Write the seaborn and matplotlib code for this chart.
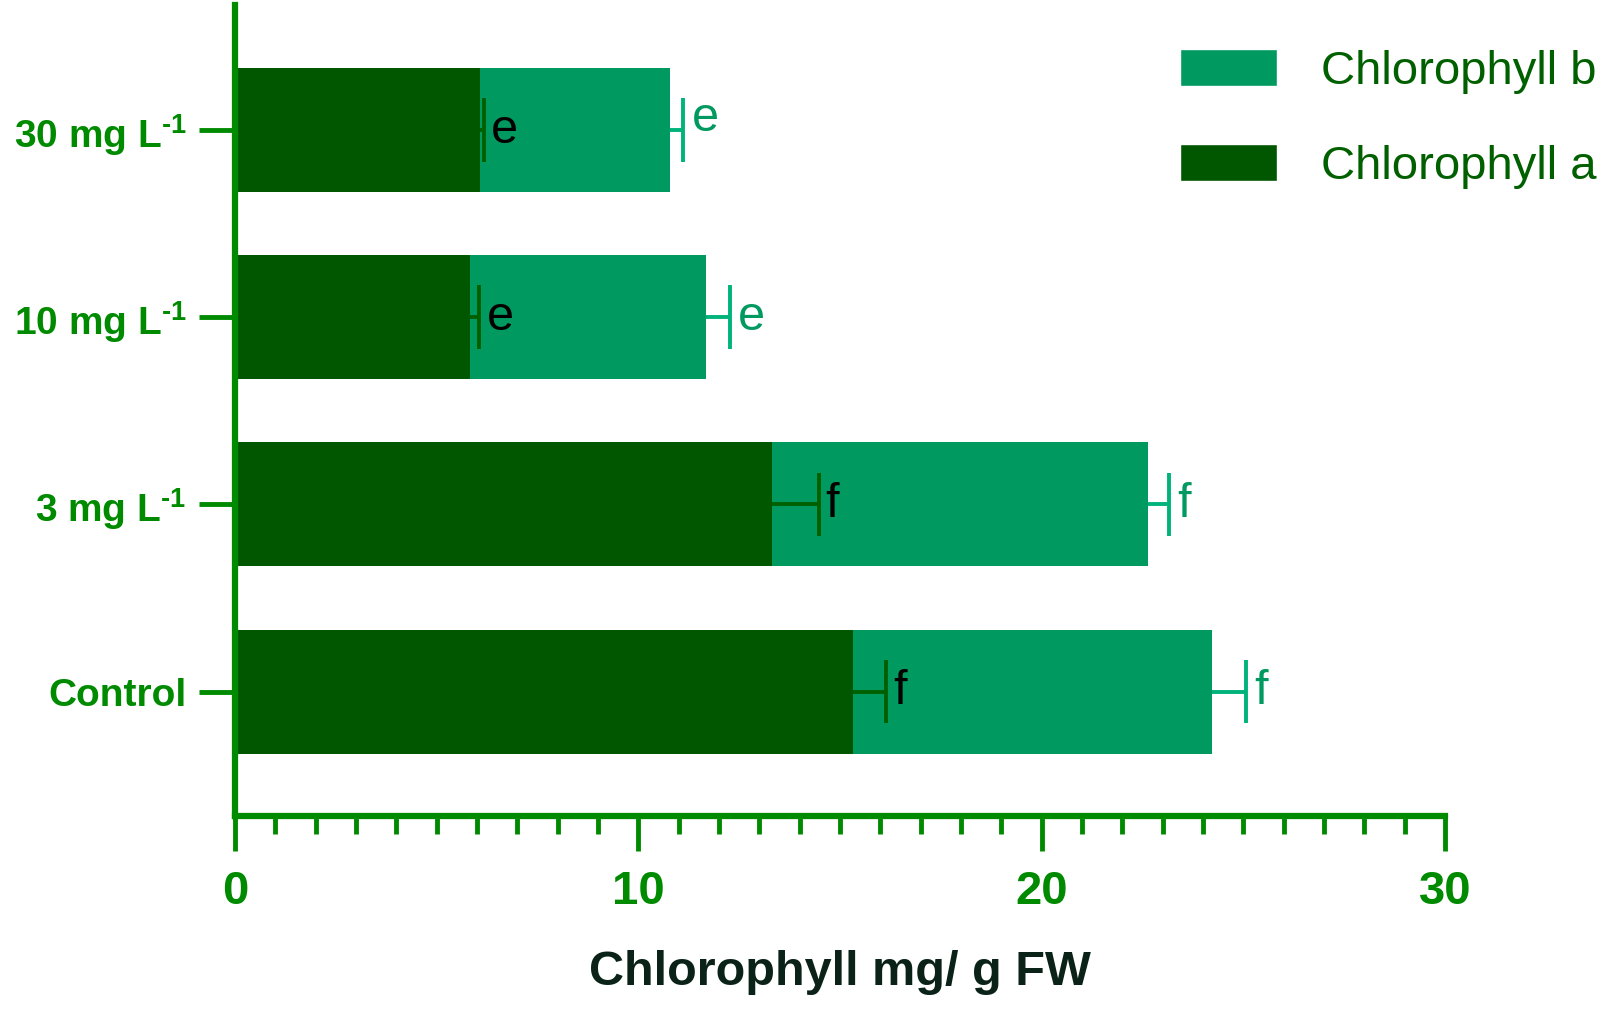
import numpy as np
import pandas as pd
import matplotlib
matplotlib.use("Agg")
import matplotlib.pyplot as plt
import seaborn as sns
from matplotlib.ticker import MultipleLocator, FixedLocator
from matplotlib.patches import Patch

# data, top to bottom as drawn
treatments = [r"30 mg L$^{\text{-1}}$", r"10 mg L$^{\text{-1}}$", r"3 mg L$^{\text{-1}}$", "Control"]
chl_a = [6.08, 5.83, 13.32, 15.32]
chl_a_err = [0.08, 0.23, 1.15, 0.82]
chl_b = [4.70, 5.85, 9.31, 8.90]
chl_b_err = [0.33, 0.59, 0.52, 0.85]
letters_a = ["e", "e", "f", "f"]
letters_b = ["e", "e", "f", "f"]

green = "#008a00"
col_a = "#005700"
col_b = "#009960"
err_a = "#006000"
err_b = "#00b37a"

sns.set_style("white")
plt.rcParams["font.family"] = ["Liberation Sans", "DejaVu Sans"]
plt.rcParams["mathtext.fontset"] = "custom"
plt.rcParams["mathtext.rm"] = "Liberation Sans:bold"
plt.rcParams["mathtext.default"] = "rm"

df = pd.DataFrame({
    "treatment": treatments,
    "a": chl_a,
    "b": chl_b,
})
df["total"] = df["a"] + df["b"]

fig, ax = plt.subplots(figsize=(16.21, 10.17), dpi=100)
fig.subplots_adjust(left=0.145, right=0.8915, bottom=0.1976, top=0.995)

sns.barplot(data=df, x="total", y="treatment", order=treatments, color=col_b,
            saturation=1, width=0.663, orient="h", linewidth=0, ax=ax)
sns.barplot(data=df, x="a", y="treatment", order=treatments, color=col_a,
            saturation=1, width=0.663, orient="h", linewidth=0, ax=ax)

ypos = np.arange(len(treatments))
tot = df["total"].values
a = df["a"].values
ea = np.array(chl_a_err)
eb = np.array(chl_b_err)

# one-sided error bars
ax.hlines(ypos, a, a + ea, color=err_a, lw=2.8, zorder=4)
ax.vlines(a + ea, ypos - 0.17, ypos + 0.17, color=err_a, lw=2.8, zorder=4)
ax.hlines(ypos, tot, tot + eb, color=err_b, lw=2.8, zorder=4)
ax.vlines(tot + eb, ypos - 0.17, ypos + 0.17, color=err_b, lw=2.8, zorder=4)

letter_b_dy = [8, 0, 0, 0]
for i in range(len(treatments)):
    ax.annotate(letters_a[i], (a[i] + ea[i], ypos[i]), xytext=(5, 0),
                textcoords="offset points", ha="left", va="center",
                fontsize=35, color="black")
    ax.annotate(letters_b[i], (tot[i] + eb[i], ypos[i]), xytext=(6, letter_b_dy[i]),
                textcoords="offset points", ha="left", va="center",
                fontsize=35, color=col_b)

ax.set_xlim(0, 30)
ax.set_ylim(3.665, -0.668)
ax.xaxis.set_major_locator(FixedLocator([0, 10, 20, 30]))
ax.xaxis.set_minor_locator(MultipleLocator(1))

for s in ["top", "right"]:
    ax.spines[s].set_visible(False)
for s in ["left", "bottom"]:
    ax.spines[s].set_color(green)
    ax.spines[s].set_linewidth(4.5)

ax.tick_params(axis="x", which="major", length=25, width=3.5, color=green,
               labelsize=34, labelcolor=green, pad=14, bottom=True)
ax.tick_params(axis="x", which="minor", length=13, width=3.5, color=green,
               bottom=True)
ax.tick_params(axis="y", which="major", length=26, width=3.5, color=green,
               labelsize=28, labelcolor=green, pad=9, left=True)
for lab in ax.get_xticklabels() + ax.get_yticklabels():
    lab.set_fontweight("bold")

ax.set_ylabel("")
ax.set_xlabel("Chlorophyll mg/ g FW", fontsize=35, fontweight="bold",
              color="#0a2218", labelpad=26)

handles = [Patch(facecolor=col_b, label="Chlorophyll b"),
           Patch(facecolor=col_a, label="Chlorophyll a")]
fig.legend(handles=handles, loc="upper left", bbox_to_anchor=(0.728, 0.952),
           frameon=False, fontsize=34, labelcolor="#006000",
           handlelength=2.05, handleheight=0.85, handletextpad=0.93,
           labelspacing=1.05, borderpad=0, borderaxespad=0)

plt.savefig("out.png", dpi=100)
plt.close()
